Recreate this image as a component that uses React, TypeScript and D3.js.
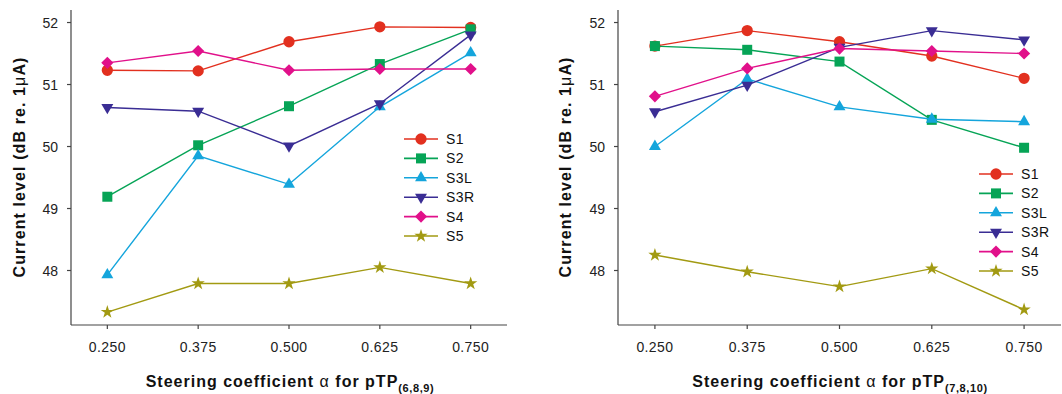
import React from "react";
import * as d3 from "d3";

const alphas = [0.25, 0.375, 0.5, 0.625, 0.75];
const xTickLabels = ["0.250", "0.375", "0.500", "0.625", "0.750"];
const yTicks = [48, 49, 50, 51, 52];
const seriesNames = ["S1", "S2", "S3L", "S3R", "S4", "S5"];
const seriesColors = ["#e2301f", "#06a456", "#14a5dc", "#3a2d94", "#e1108a", "#a29a12"];
const seriesShapes = ["circle", "square", "triUp", "triDown", "diamond", "star"];

// Left panel: pTP(6,8,9)
const left_S1 = [51.23, 51.22, 51.69, 51.93, 51.92];
const left_S2 = [49.19, 50.02, 50.65, 51.33, 51.89];
const left_S3L = [47.93, 49.85, 49.39, 50.64, 51.51];
const left_S3R = [50.63, 50.57, 50.01, 50.69, 51.8];
const left_S4 = [51.35, 51.54, 51.23, 51.25, 51.25];
const left_S5 = [47.33, 47.79, 47.79, 48.05, 47.79];

// Right panel: pTP(7,8,10)
const right_S1 = [51.62, 51.87, 51.69, 51.46, 51.1];
const right_S2 = [51.62, 51.56, 51.37, 50.43, 49.98];
const right_S3L = [50.0, 51.09, 50.64, 50.44, 50.4];
const right_S3R = [50.56, 50.99, 51.6, 51.87, 51.72];
const right_S4 = [50.81, 51.26, 51.58, 51.54, 51.5];
const right_S5 = [48.25, 47.98, 47.74, 48.03, 47.37];

const leftSeries = [left_S1, left_S2, left_S3L, left_S3R, left_S4, left_S5];
const rightSeries = [right_S1, right_S2, right_S3L, right_S3R, right_S4, right_S5];

const FONT = "'Liberation Sans', Arial, sans-serif";

function Marker({ shape, x, y, color }: { shape: string; x: number; y: number; color: string }) {
  let path = "";
  let rot = 0;
  if (shape === "circle") path = d3.symbol(d3.symbolCircle, 100)() as string;
  else if (shape === "square") path = d3.symbol(d3.symbolSquare, 100)() as string;
  else if (shape === "triUp") path = d3.symbol(d3.symbolTriangle, 62)() as string;
  else if (shape === "triDown") {
    path = d3.symbol(d3.symbolTriangle, 62)() as string;
    rot = 180;
  } else if (shape === "diamond") {
    path = d3.symbol(d3.symbolSquare, 74)() as string;
    rot = 45;
  } else if (shape === "star") path = d3.symbol(d3.symbolStar, 55)() as string;
  return <path d={path} transform={`translate(${x},${y}) rotate(${rot})`} fill={color} stroke="none" />;
}

function Panel({
  x0,
  x1,
  data,
  sub,
  legendX,
  legendY,
  titleX,
  ylabelX,
}: {
  x0: number;
  x1: number;
  data: number[][];
  sub: string;
  legendX: number;
  legendY: number;
  titleX: number;
  ylabelX: number;
}) {
  const yTop = 10;
  const yBot = 325;
  const x = d3.scaleLinear().domain([0.2, 0.8]).range([x0, x1]);
  const y = d3.scaleLinear().domain([47.121, 52.202]).range([yBot, yTop]);
  const line = d3
    .line<number>()
    .x((_, i) => x(alphas[i]))
    .y((d) => y(d));
  const axisColor = "#444";
  return (
    <g>
      {/* axes */}
      <line x1={x0} x2={x0} y1={yTop} y2={yBot} stroke={axisColor} strokeWidth={1.2} />
      <line x1={x0} x2={x1} y1={yBot} y2={yBot} stroke={axisColor} strokeWidth={1.2} />
      {yTicks.map((t) => (
        <g key={t}>
          <line x1={x0 - 4} x2={x0} y1={y(t)} y2={y(t)} stroke={axisColor} strokeWidth={1.2} />
          <text
            x={x0 - 13}
            y={y(t)}
            dy="0.36em"
            textAnchor="end"
            fontSize={14}
            fontFamily={FONT}
            fill="#222"
          >
            {t}
          </text>
        </g>
      ))}
      {alphas.map((a, i) => (
        <g key={a}>
          <line x1={x(a)} x2={x(a)} y1={yBot} y2={yBot + 4} stroke={axisColor} strokeWidth={1.2} />
          <text
            x={x(a)}
            y={yBot + 27}
            textAnchor="middle"
            fontSize={14}
            letterSpacing={0.4}
            fontFamily={FONT}
            fill="#222"
          >
            {xTickLabels[i]}
          </text>
        </g>
      ))}
      {/* y label */}
      <text
        transform={`translate(${ylabelX},${167}) rotate(-90)`}
        textAnchor="middle"
        dy="0.35em"
        fontSize={16}
        fontWeight="bold"
        letterSpacing={1.1}
        fontFamily={FONT}
        fill="#111"
      >
        Current level (dB re. 1<tspan fontWeight="normal">μ</tspan>A)
      </text>
      {/* x label */}
      <text
        x={titleX}
        y={387}
        textAnchor="middle"
        fontSize={16}
        fontWeight="bold"
        letterSpacing={1}
        fontFamily={FONT}
        fill="#111"
      >
        Steering coefficient <tspan fontWeight="normal">α</tspan> for pTP
        <tspan fontSize={11} dy={5} letterSpacing={0.6}>
          {sub}
        </tspan>
      </text>
      {/* series */}
      {data.map((vals, si) => (
        <g key={si}>
          <path d={line(vals) as string} fill="none" stroke={seriesColors[si]} strokeWidth={1.4} />
          {vals.map((v, i) => (
            <Marker key={i} shape={seriesShapes[si]} x={x(alphas[i])} y={y(v)} color={seriesColors[si]} />
          ))}
        </g>
      ))}
      {/* legend */}
      {seriesNames.map((n, i) => {
        const ly = legendY + i * 19.4;
        return (
          <g key={n}>
            <line x1={legendX} x2={legendX + 34} y1={ly} y2={ly} stroke={seriesColors[i]} strokeWidth={1.6} />
            <Marker shape={seriesShapes[i]} x={legendX + 17} y={ly} color={seriesColors[i]} />
            <text
              x={legendX + 42}
              y={ly}
              dy="0.36em"
              fontSize={14}
              letterSpacing={0.5}
              fontFamily={FONT}
              fill="#111"
            >
              {n}
            </text>
          </g>
        );
      })}
    </g>
  );
}

export default function App() {
  return (
    <svg
      width={1062}
      height={394}
      style={{ position: "absolute", left: 0, top: 0, background: "#fff" }}
    >
      <rect width={1062} height={394} fill="#fff" />
      <Panel
        x0={71}
        x1={507}
        data={leftSeries}
        sub="(6,8,9)"
        legendX={404}
        legendY={139}
        titleX={290}
        ylabelX={19}
      />
      <Panel
        x0={618}
        x1={1061}
        data={rightSeries}
        sub="(7,8,10)"
        legendX={979}
        legendY={174}
        titleX={840}
        ylabelX={565}
      />
    </svg>
  );
}
